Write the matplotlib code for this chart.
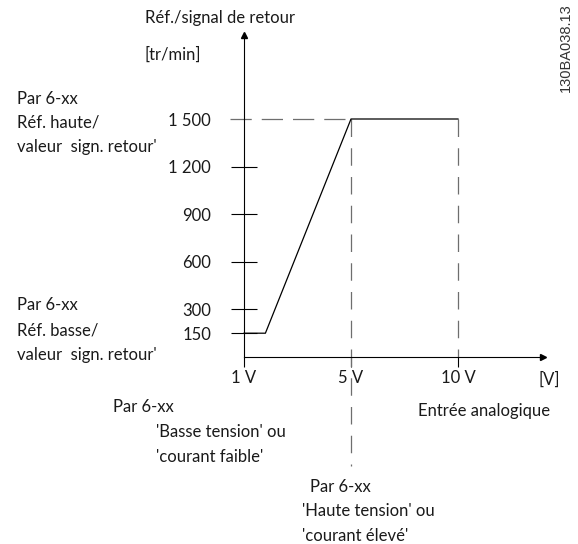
import matplotlib
matplotlib.use("Agg")
import matplotlib.pyplot as plt

plt.rcParams['font.family'] = ['Lato', 'DejaVu Sans']

# schematic x positions: 0 = 1 V, 1 = 5 V, 2 = 10 V
x_ticks = [0, 1, 2]
x_labels = ['1 V', '5 V', '10 V']
y_ticks = [150, 300, 600, 900, 1200, 1500]
y_labels = ['150', '300', '600', '900', '1 200', '1 500']

# reference curve
curve_x = [0, 0.2, 1, 2]
curve_y = [150, 150, 1500, 1500]

ref_low, ref_high = 150, 1500
x_low, x_high, x_max = 1, 2, 2

W, H = 578, 544
fig = plt.figure(figsize=(W / 100, H / 100), dpi=100)

# axes placed so origin sits at pixel (244, 357)
left, right, top, bottom = 244, 543, 35, 357
ax = fig.add_axes([left / W, (H - bottom) / H, (right - left) / W, (bottom - top) / H])
ax.set_xlim(0, (right - left) / 107)
ax.set_ylim(0, (bottom - top) / 238 * 1500)
ax.patch.set_visible(False)
for s in ['top', 'right']:
    ax.spines[s].set_visible(False)
for s in ['left', 'bottom']:
    ax.spines[s].set_linewidth(0.8)
    ax.spines[s].set_color('black')

txt = '#1a1a1a'
fs = 12
ax.set_yticks(y_ticks)
ax.set_yticklabels(y_labels)
ax.tick_params(axis='y', direction='inout', length=19.4, width=0.8, pad=14,
               labelsize=fs, labelcolor=txt)
ax.yaxis.get_major_ticks()[-1].tick1line.set_visible(False)
ax.set_xticks(x_ticks)
ax.set_xticklabels(x_labels)
ax.tick_params(axis='x', direction='out', length=7.5, width=0.8, pad=2,
               labelsize=fs, labelcolor=txt)

# arrow heads
ax.plot([0], [1], marker='^', ms=4, color='black', transform=ax.transAxes, clip_on=False)
ax.plot([1], [0], marker='>', ms=4, color='black', transform=ax.transAxes, clip_on=False)

# curve
ax.plot(curve_x, curve_y, color='black', lw=0.9, clip_on=False, zorder=3)

# dashed guides
gray = '#6e6e6e'
ax.plot([-0.13, x_low], [ref_high, ref_high], color=gray, lw=0.9, dashes=(17, 8), clip_on=False)
ax.plot([x_low, x_low], [ref_high, -690], color=gray, lw=0.9, dashes=(14, 9), clip_on=False)
ax.plot([x_high, x_high], [ref_high, 0], color=gray, lw=0.9, dashes=(14, 9), clip_on=False)

# labels (pixel positions)
def label(x, y, s, ha='left', **kw):
    fig.text(x / W, 1 - y / H, s, ha=ha, va='center', fontsize=fs, color=txt, **kw)

label(145, 18, 'Réf./signal de retour')
label(145, 55, '[tr/min]')
label(17, 99, 'Par 6-xx')
label(17, 123, 'Réf. haute/')
label(17, 147, "valeur  sign. retour'")
label(17, 305, 'Par 6-xx')
label(17, 330, 'Réf. basse/')
label(17, 355, "valeur  sign. retour'")
label(560, 380, '[V]', ha='right')
label(484, 411, 'Entrée analogique', ha='center')
label(113, 407, 'Par 6-xx')
label(156, 432, "'Basse tension' ou")
label(156, 457, "'courant faible'")
label(310, 487, 'Par 6-xx')
label(302, 511, "'Haute tension' ou")
label(302, 536, "'courant élevé'")
fig.text(566 / W, 1 - 48 / H, '130BA038.13', rotation=90, ha='center', va='center',
         fontsize=10.5, color='#333333', family='Liberation Sans')

fig.savefig('out.png', dpi=100)
